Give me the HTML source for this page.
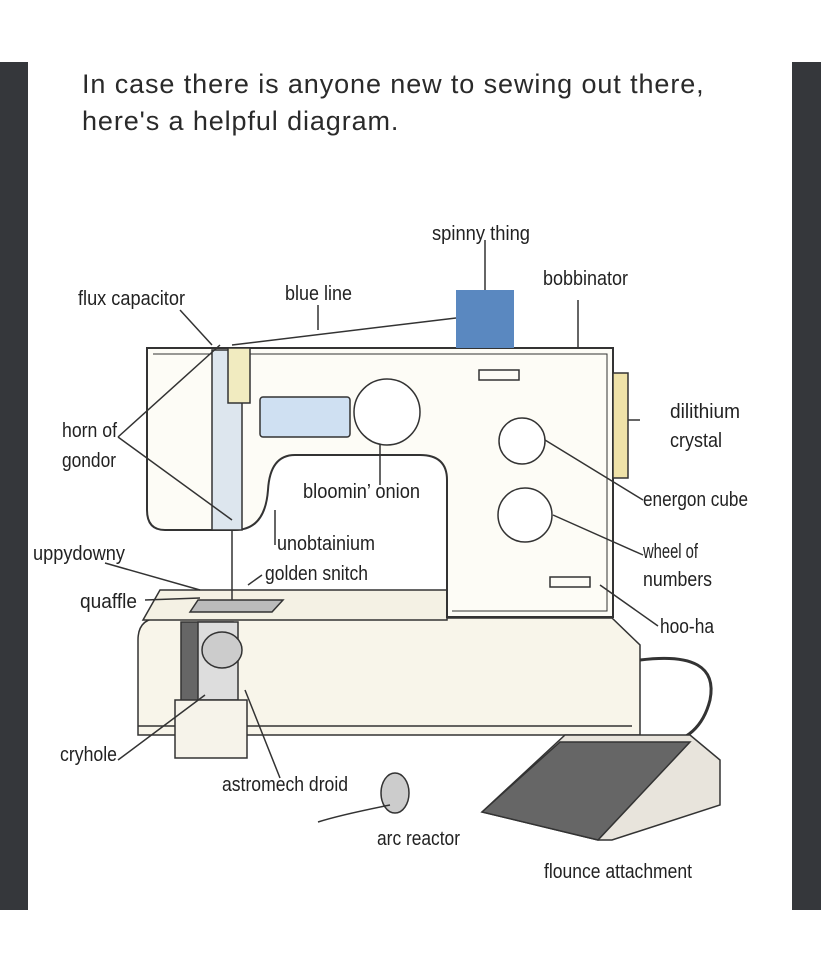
<!DOCTYPE html>
<html><head><meta charset="utf-8"><style>
body{margin:0;width:821px;height:960px;background:#fff;overflow:hidden;position:relative;font-family:"Liberation Sans",sans-serif}
.bar{position:absolute;top:62px;height:848px;background:#35373b}
.t{position:absolute;left:82px;top:66px;font-size:27px;letter-spacing:0.9px;line-height:37px;color:#2a2a2a}
svg{position:absolute;left:0;top:0}
.l{font-family:"Liberation Sans",sans-serif;font-size:20px;fill:#222}
</style></head><body>
<div class="bar" style="left:0;width:28px"></div>
<div class="bar" style="left:792px;width:29px"></div>
<div class="t">In case there is anyone new to sewing out there,<br>here's a helpful diagram.</div>
<svg width="821" height="960" viewBox="0 0 821 960">
<g stroke="#333" stroke-width="1.5" fill="none">
<path d="M138 640 Q138 618 160 618 L612 618 L640 645 L640 735 L138 735 Z" fill="#f8f5ea"/>
<line x1="138" y1="726" x2="632" y2="726"/>
<path d="M143 620 L160 590 L447 590 L447 620 Z" fill="#f4f1e4"/>
<path d="M147 348 L613 348 L613 617 L447 617 L447 480 Q447 455 420 455 L295 455 Q270 455 268 490 Q265 530 235 530 L165 530 Q147 530 147 510 Z" fill="#fdfcf6" stroke-width="2"/>
<path d="M153 354 L607 354 L607 611 L452 611" stroke-width="1"/>
<rect x="613" y="373" width="15" height="105" fill="#efe2a8"/>
<rect x="456" y="290" width="58" height="58" fill="#5a88c0" stroke="none"/>
<line x1="485" y1="240" x2="485" y2="290"/>
<line x1="578" y1="300" x2="578" y2="348"/>
<rect x="260" y="397" width="90" height="40" rx="3" fill="#cfe0f2"/>
<circle cx="387" cy="412" r="33" fill="#fff"/>
<circle cx="522" cy="441" r="23" fill="#fff"/>
<circle cx="525" cy="515" r="27" fill="#fff"/>
<rect x="479" y="370" width="40" height="10"/>
<rect x="550" y="577" width="40" height="10"/>
<rect x="212" y="350" width="30" height="180" fill="#dde6ee"/>
<rect x="228" y="348" width="22" height="55" fill="#f1ebc0"/>
<line x1="232" y1="530" x2="232" y2="600"/>
<path d="M190 612 L198 600 L283 600 L272 612 Z" fill="#bbb"/>
<rect x="181" y="622" width="52" height="80" fill="#666"/>
<rect x="198" y="622" width="40" height="78" fill="#ddd"/>
<ellipse cx="222" cy="650" rx="20" ry="18" fill="#ccc"/>
<path d="M175 700 L247 700 L247 758 L175 758 Z" fill="#f6f3ea"/>
<path d="M640 660 Q720 650 710 700 Q700 740 660 745" stroke-width="3"/>
<path d="M482 812 L565 735 L690 735 L720 760 L720 805 L612 840 L598 840 Z" fill="#e8e4dc"/>
<path d="M482 812 L560 742 L690 742 L598 840 Z" fill="#666"/>
<ellipse cx="395" cy="793" rx="14" ry="20" fill="#ccc"/>
<path d="M180 310 L212 345"/>
<path d="M318 330 L318 305 M232 345 L456 318"/>
<path d="M118 437 L220 345 M118 437 L232 520"/>
<path d="M640 420 L628 420 M643 500 L545 440 M643 555 L553 515 M658 626 L600 585"/>
<path d="M380 445 L380 485"/>
<path d="M275 545 L275 510 M262 575 L248 585"/>
<path d="M105 563 L200 590 M145 600 L200 598"/>
<path d="M118 760 L205 695 M280 778 L245 690 M318 822 Q340 815 390 805"/>
</g>
<g class="l" lengthAdjust="spacingAndGlyphs">
<text class="l" x="432" y="240" textLength="98" lengthAdjust="spacingAndGlyphs">spinny thing</text>
<text class="l" x="543" y="285" textLength="85" lengthAdjust="spacingAndGlyphs">bobbinator</text>
<text class="l" x="78" y="305" textLength="107" lengthAdjust="spacingAndGlyphs">flux capacitor</text>
<text class="l" x="285" y="300" textLength="67" lengthAdjust="spacingAndGlyphs">blue line</text>
<text class="l" x="62" y="437" textLength="55" lengthAdjust="spacingAndGlyphs">horn of</text>
<text class="l" x="62" y="467" textLength="54" lengthAdjust="spacingAndGlyphs">gondor</text>
<text class="l" x="670" y="418" textLength="70" lengthAdjust="spacingAndGlyphs">dilithium</text>
<text class="l" x="670" y="447" textLength="52" lengthAdjust="spacingAndGlyphs">crystal</text>
<text class="l" x="303" y="498" textLength="117" lengthAdjust="spacingAndGlyphs">bloomin’ onion</text>
<text class="l" x="643" y="506" textLength="105" lengthAdjust="spacingAndGlyphs">energon cube</text>
<text class="l" x="277" y="550" textLength="98" lengthAdjust="spacingAndGlyphs">unobtainium</text>
<text class="l" x="265" y="580" textLength="103" lengthAdjust="spacingAndGlyphs">golden snitch</text>
<text class="l" x="33" y="560" textLength="92" lengthAdjust="spacingAndGlyphs">uppydowny</text>
<text class="l" x="643" y="558" textLength="55" lengthAdjust="spacingAndGlyphs">wheel of</text>
<text class="l" x="643" y="586" textLength="69" lengthAdjust="spacingAndGlyphs">numbers</text>
<text class="l" x="80" y="608" textLength="57" lengthAdjust="spacingAndGlyphs">quaffle</text>
<text class="l" x="660" y="633" textLength="54" lengthAdjust="spacingAndGlyphs">hoo-ha</text>
<text class="l" x="60" y="761" textLength="57" lengthAdjust="spacingAndGlyphs">cryhole</text>
<text class="l" x="222" y="791" textLength="126" lengthAdjust="spacingAndGlyphs">astromech droid</text>
<text class="l" x="377" y="845" textLength="83" lengthAdjust="spacingAndGlyphs">arc reactor</text>
<text class="l" x="544" y="878" textLength="148" lengthAdjust="spacingAndGlyphs">flounce attachment</text>
</g>
</svg>
</body></html>
